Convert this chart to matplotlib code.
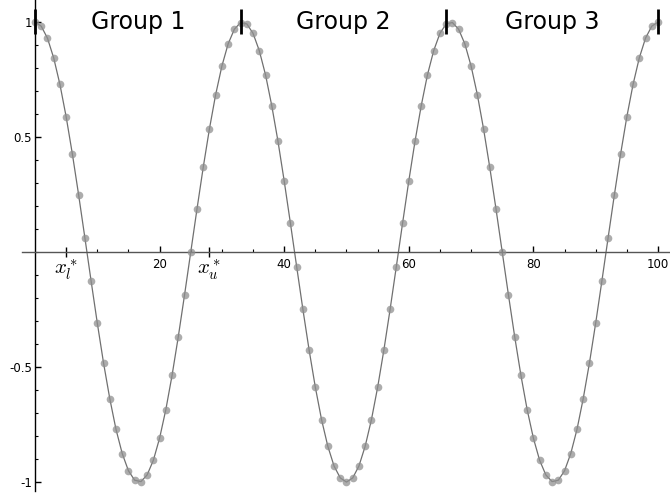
import numpy as np
import matplotlib
matplotlib.use("Agg")
import matplotlib.pyplot as plt
from matplotlib.ticker import MultipleLocator, FixedLocator, FixedFormatter

plt.rcParams['axes.unicode_minus'] = False
plt.rcParams['mathtext.fontset'] = 'cm'

x_vals = list(range(101))
y_vals = [
    1.000, 0.982, 0.930, 0.844, 0.729, 0.588, 0.426, 0.249, 0.063, -0.125,
    -0.309, -0.482, -0.637, -0.771, -0.876, -0.951, -0.992, -0.998, -0.969, -0.905,
    -0.809, -0.685, -0.536, -0.368, -0.187, 0.000, 0.187, 0.368, 0.536, 0.685,
    0.809, 0.905, 0.969, 0.998, 0.992, 0.951, 0.876, 0.771, 0.637, 0.482,
    0.309, 0.125, -0.063, -0.249, -0.426, -0.588, -0.729, -0.844, -0.930, -0.982,
    -1.000, -0.982, -0.930, -0.844, -0.729, -0.588, -0.426, -0.249, -0.063, 0.125,
    0.309, 0.482, 0.637, 0.771, 0.876, 0.951, 0.992, 0.998, 0.969, 0.905,
    0.809, 0.685, 0.536, 0.368, 0.187, 0.000, -0.187, -0.368, -0.536, -0.685,
    -0.809, -0.905, -0.969, -0.998, -0.992, -0.951, -0.876, -0.771, -0.637, -0.482,
    -0.309, -0.125, 0.063, 0.249, 0.426, 0.588, 0.729, 0.844, 0.930, 0.982,
    1.000,
]

# group boundaries and labels
group_edges = [0, 33, 66, 100]
group_centers = [16.5, 49.5, 83.0]
group_labels = ["Group 1", "Group 2", "Group 3"]

# axis ticks
xtick_pos = [5, 20, 28, 40, 60, 80, 100]
xtick_labels = ["$x_l^*$", "20", "$x_u^*$", "40", "60", "80", "100"]
xminor_pos = list(range(5, 101, 5))
ytick_pos = [-1, -0.5, 0.5, 1]
ytick_labels = ["-1", "-0.5", "0.5", "1"]

fig = plt.figure(figsize=(6.7, 5), dpi=100)
ax = fig.add_axes([0, 0, 1, 1])

ax.plot(x_vals, y_vals, color='#707070', lw=0.9, zorder=2)
ax.plot(x_vals, y_vals, 'o', color='#909090', alpha=0.75, ms=5.5, mec='none', zorder=3)

# group separators and titles
ax.vlines(group_edges, 0.95, 1.055, color='black', lw=2, zorder=4)
for cx, lab in zip(group_centers, group_labels):
    ax.text(cx, 1.0, lab, ha='center', va='center', fontsize=17)

ax.set_xlim(-5.62, 101.93)
ax.set_ylim(-1.078, 1.096)

for s in ['top', 'right']:
    ax.spines[s].set_visible(False)
ax.spines['left'].set_position(('data', 0))
ax.spines['bottom'].set_position(('data', 0))
ax.spines['left'].set_bounds(-1.04, 1.096)
ax.spines['bottom'].set_bounds(-2.1, 101.93)
ax.spines['left'].set_linewidth(1.0)
ax.spines['bottom'].set_linewidth(1.0)
ax.spines['bottom'].set_color('#555555')

ax.xaxis.set_major_locator(FixedLocator(xtick_pos))
ax.xaxis.set_major_formatter(FixedFormatter(xtick_labels))
ax.xaxis.set_minor_locator(FixedLocator(xminor_pos))
ax.yaxis.set_major_locator(FixedLocator(ytick_pos))
ax.yaxis.set_major_formatter(FixedFormatter(ytick_labels))
ax.yaxis.set_minor_locator(MultipleLocator(0.1))

ax.tick_params(which='major', direction='in', length=4, width=1, labelsize=8.5, pad=4)
ax.tick_params(which='minor', direction='in', length=2.5, width=0.8)
ax.tick_params(axis='y', which='major', pad=2)

# the two starred ticks cross the axis and use a bigger label
for i in (0, 2):
    t = ax.xaxis.get_major_ticks()[i]
    t.tick1line.set_marker('|')
    t.tick1line.set_markersize(7)
    t.label1.set_fontsize(15)

fig.savefig("out.png", dpi=100)
